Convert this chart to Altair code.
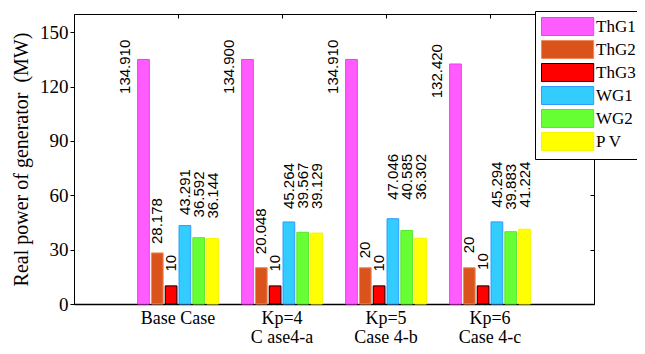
import altair as alt
import pandas as pd

# ---------------- data ----------------
cases = ["Base Case", "Kp=4", "Kp=5", "Kp=6"]
case_notes = ["", "C ase4-a", "Case 4-b", "Case 4-c"]
gens = ["ThG1", "ThG2", "ThG3", "WG1", "WG2", "P V"]

thg1 = [134.910, 134.900, 134.910, 132.420]
thg2 = [28.178, 20.048, 20.0, 20.0]
thg3 = [10.0, 10.0, 10.0, 10.0]
wg1 = [43.291, 45.264, 47.046, 45.294]
wg2 = [36.592, 39.567, 40.585, 39.883]
pv = [36.144, 39.129, 36.302, 41.224]

thg1_txt = ["134.910", "134.900", "134.910", "132.420"]
thg2_txt = ["28.178", "20.048", "20", "20"]
thg3_txt = ["10", "10", "10", "10"]
wg1_txt = ["43.291", "45.264", "47.046", "45.294"]
wg2_txt = ["36.592", "39.567", "40.585", "39.883"]
pv_txt = ["36.144", "39.129", "36.302", "41.224"]

# where the top end of each value label sits (MW)
thg1_lab = [140.3, 140.3, 140.3, 137.9]
thg2_lab = [58.4, 52.8, 34.4, 37.2]
thg3_lab = [27.1, 27.1, 27.1, 28.0]
wg1_lab = [74.4, 77.7, 82.8, 78.6]
wg2_lab = [73.1, 78.0, 82.8, 77.3]
pv_lab = [72.5, 77.7, 82.8, 78.6]

y_ticks = [0, 30, 60, 90, 120, 150]

fills = ["#FF5CFF", "#D9531A", "#FF0000", "#33CCFF", "#66FF33", "#FFFF00"]
strokes = ["#FF33FF", "#F08A5D", "#000000", "#3399FF", "#5AE62E", "#F5F500"]

# ---------------- table ----------------
rows = []
for g, vals, txts, labs in zip(
    gens,
    [thg1, thg2, thg3, wg1, wg2, pv],
    [thg1_txt, thg2_txt, thg3_txt, wg1_txt, wg2_txt, pv_txt],
    [thg1_lab, thg2_lab, thg3_lab, wg1_lab, wg2_lab, pv_lab],
):
    for c, v, t, l in zip(cases, vals, txts, labs):
        rows.append({"case": c, "gen": g, "value": v, "label": t, "top": l})
df = pd.DataFrame(rows)

label_expr = ""
for c, n in zip(cases, case_notes):
    if n:
        label_expr += f"datum.value == '{c}' ? ['{c}', '{n}'] : "
    else:
        label_expr += f"datum.value == '{c}' ? '{c}' : "
label_expr += "datum.value"

SERIF = "Liberation Serif"
SANS = "Liberation Sans"

x_scale = alt.Scale(paddingInner=0, paddingOuter=0.5)
off_scale = alt.Scale(paddingInner=0.15, paddingOuter=0.84)
y_scale = alt.Scale(domain=[0, 160], nice=False)

legend = alt.Legend(
    title=None,
    orient="none",
    legendX=461,
    legendY=-3,
    symbolType="M-1,-1H4.8V1H-1Z",
    symbolSize=324,
    symbolStrokeWidth=1,
    symbolOpacity=1,
    labelFont=SERIF,
    labelFontSize=17,
    labelColor="black",
    labelOffset=36,
    rowPadding=0,
    padding=6,
    strokeColor="black",
    fillColor="white",
)

base = alt.Chart(df)

bars = base.mark_bar(strokeWidth=1, opacity=1).encode(
    x=alt.X(
        "case:N",
        sort=cases,
        scale=x_scale,
        axis=alt.Axis(
            orient="bottom",
            title=None,
            labelAngle=0,
            labelExpr=label_expr,
            labelFont=SERIF,
            labelFontSize=18,
            labelColor="black",
            labelLineHeight=19,
            ticks=False,
            tickSize=0,
            labelPadding=5,
            domainColor="black",
            domainWidth=1.5,
        ),
    ),
    xOffset=alt.XOffset("gen:N", sort=gens, scale=off_scale),
    y=alt.Y(
        "value:Q",
        scale=y_scale,
        axis=alt.Axis(
            orient="left",
            values=y_ticks,
            title="Real power of generator\u00a0 (MW)",
            titleFont=SERIF,
            titleFontSize=20,
            titleFontWeight="normal",
            titleColor="black",
            titlePadding=8,
            labelFont=SERIF,
            labelFontSize=19,
            labelColor="black",
            tickColor="black",
            tickSize=4,
            labelPadding=2,
            domainColor="black",
            grid=False,
        ),
    ),
    fill=alt.Fill("gen:N", sort=gens, scale=alt.Scale(domain=gens, range=fills), legend=legend),
    stroke=alt.Stroke("gen:N", sort=gens, scale=alt.Scale(domain=gens, range=strokes), legend=legend),
)

labels = base.transform_filter(alt.datum.gen != "ThG1").mark_text(
    angle=270, align="right", baseline="middle", font=SANS, fontSize=15, color="black"
).encode(
    x=alt.X(
        "case:N",
        sort=cases,
        axis=alt.Axis(
            orient="top", title=None, labels=False, domain=False,
            ticks=True, tickSize=4, offset=-4, tickColor="black",
        ),
    ),
    xOffset=alt.XOffset("gen:N", sort=gens),
    y=alt.Y(
        "top:Q",
        axis=alt.Axis(
            orient="right", title=None, labels=False, domain=False,
            values=y_ticks, ticks=True, tickSize=4, offset=-4, tickColor="black", grid=False,
        ),
    ),
    text="label:N",
)

pink_labels = base.transform_filter(alt.datum.gen == "ThG1").mark_text(
    angle=270, align="right", baseline="middle", font=SANS, fontSize=15, color="black",
    dx=10, dy=-18,
).encode(
    x=alt.X("case:N", sort=cases, axis=None),
    xOffset=alt.XOffset("gen:N", sort=gens),
    y=alt.Y("top:Q", axis=None),
    text="label:N",
)

chart = (
    alt.layer(bars, labels, pink_labels)
    .resolve_axis(x="independent", y="independent")
    .properties(
        width=520,
        height=290,
        autosize=alt.AutoSizeParams(type="none"),
        padding={"left": 66, "top": 6, "right": 43, "bottom": 42},
        background="white",
    )
    .configure_view(stroke="black", strokeWidth=1)
)

chart.save("out.html", embed_options={"renderer": "svg", "actions": False})
